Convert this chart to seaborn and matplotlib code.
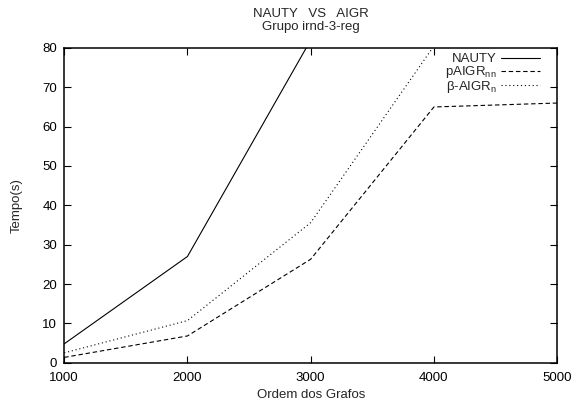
import matplotlib
matplotlib.use('Agg')
import matplotlib.pyplot as plt
import pandas as pd
import seaborn as sns

# ordem dos grafos
ordem = [1000, 2000, 3000, 4000, 5000]
nauty = [4.8, 27.0, 82.0, None, None]
paigr = [1.35, 6.8, 26.3, 65.0, 66.0]
beta_aigr = [2.5, 10.7, 35.6, 80.5, 95.0]

labels = ["NAUTY", r"pAIGR$_{\mathrm{nn}}$", r"β-AIGR$_{\mathrm{n}}$"]

sns.set_style("ticks")
plt.rcParams['font.family'] = ['Liberation Sans', 'DejaVu Sans']
plt.rcParams['mathtext.fontset'] = 'custom'
plt.rcParams['mathtext.rm'] = 'Liberation Sans'
plt.rcParams['font.size'] = 9.5

rows = []
for lab, vals in zip(labels, [nauty, paigr, beta_aigr]):
    for x, v in zip(ordem, vals):
        if v is not None:
            rows.append({"Ordem": x, "Tempo": v, "Serie": lab})
df = pd.DataFrame(rows)

fig = plt.figure(figsize=(5.84, 4.03), dpi=100)
ax = fig.add_axes([0.110, 0.100, 0.844, 0.781])

sns.lineplot(data=df, x="Ordem", y="Tempo", style="Serie", style_order=labels,
             dashes={labels[0]: "", labels[1]: (4, 2.5), labels[2]: (1, 2.5)},
             color="black", linewidth=0.8, ax=ax, legend=True)

ax.set_xlim(1000, 5000)
ax.set_ylim(0, 80)
ax.set_xticks(ordem)
ax.set_yticks(range(0, 81, 10))
ax.tick_params(direction='in', top=True, right=True, length=5, width=0.8,
               labelsize=9.5, colors='black')
ax.tick_params(axis='x', pad=7)
ax.tick_params(axis='y', pad=5)
for s in ax.spines.values():
    s.set_linewidth(1.1)
    s.set_color('black')

ax.set_xlabel("Ordem dos Grafos", fontsize=9.5, labelpad=3)
ax.set_ylabel("Tempo(s)", fontsize=9.5, labelpad=14)
ax.set_title("NAUTY   VS   AIGR\nGrupo irnd-3-reg", fontsize=9.5, pad=13, linespacing=1.05)

leg = ax.legend(loc='upper right', frameon=False, markerfirst=False,
                handlelength=2.9, handletextpad=0.35, labelspacing=-0.1,
                borderaxespad=0.2, borderpad=0.2, fontsize=9.5,
                bbox_to_anchor=(0.975, 1.0))
for t in leg.get_texts():
    t.set_ha('right')

plt.savefig("out.png", dpi=100)
